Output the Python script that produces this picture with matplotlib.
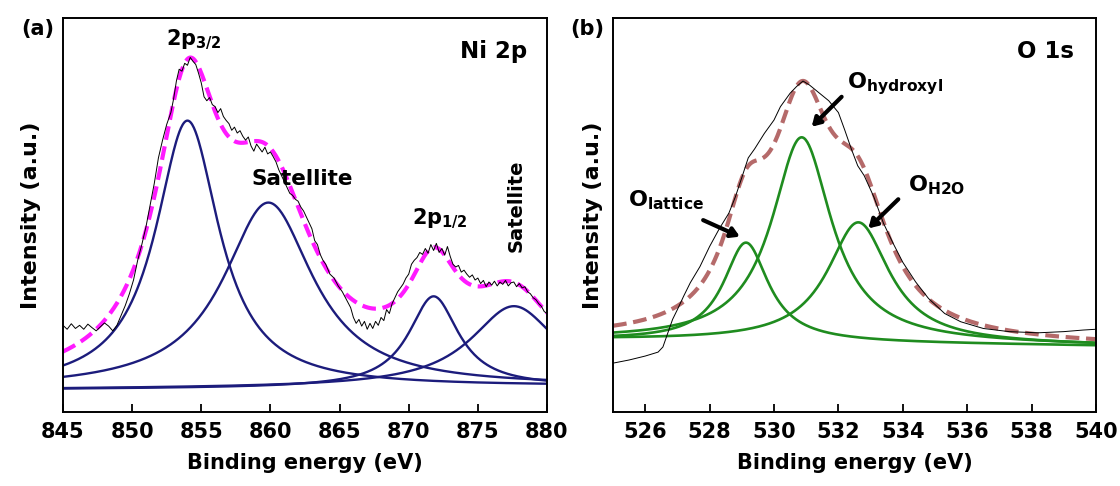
import numpy as np
import matplotlib
matplotlib.use('Agg')
import matplotlib.pyplot as plt

plt.rcParams['font.family'] = ['DejaVu Sans']
plt.rcParams['font.weight'] = 'bold'
plt.rcParams['mathtext.fontset'] = 'custom'
plt.rcParams['mathtext.rm'] = 'DejaVu Sans:bold'
plt.rcParams['mathtext.it'] = 'DejaVu Sans:bold'
plt.rcParams['mathtext.bf'] = 'DejaVu Sans:bold'
plt.rcParams['mathtext.sf'] = 'DejaVu Sans:bold'

ni_energy = [845.0, 845.3, 845.6, 845.9, 846.2, 846.5, 846.8, 847.1, 847.4, 847.7,
             848.0, 848.3, 848.6, 848.9, 849.2, 849.5, 849.8, 850.1, 850.4, 850.7,
             851.0, 851.3, 851.6, 851.9, 852.2, 852.5, 852.8, 853.0, 853.2, 853.4,
             853.6, 853.8, 854.0, 854.2, 854.4, 854.6, 854.8, 855.0, 855.2, 855.4,
             855.6, 855.8, 856.0, 856.2, 856.4, 856.6, 856.8, 857.0, 857.2, 857.4,
             857.6, 857.8, 858.0, 858.2, 858.4, 858.6, 858.8, 859.0, 859.2, 859.4,
             859.6, 859.8, 860.0, 860.2, 860.4, 860.6, 860.8, 861.0, 861.2, 861.4,
             861.6, 861.8, 862.0, 862.2, 862.4, 862.6, 862.8, 863.0, 863.2, 863.4,
             863.6, 863.8, 864.0, 864.3, 864.6, 864.9, 865.2, 865.5, 865.8, 866.0,
             866.2, 866.4, 866.6, 866.8, 867.0, 867.2, 867.4, 867.6, 867.8, 868.0,
             868.2, 868.4, 868.6, 868.8, 869.0, 869.2, 869.4, 869.6, 869.8, 870.0,
             870.2, 870.4, 870.6, 870.8, 871.0, 871.2, 871.4, 871.6, 871.8, 872.0,
             872.2, 872.4, 872.6, 872.8, 873.0, 873.2, 873.4, 873.6, 873.8, 874.0,
             874.2, 874.4, 874.6, 874.8, 875.0, 875.2, 875.4, 875.6, 875.8, 876.0,
             876.2, 876.4, 876.6, 876.8, 877.0, 877.2, 877.4, 877.6, 877.8, 878.0,
             878.2, 878.4, 878.6, 878.8, 879.0, 879.2, 879.4, 879.6, 879.8, 880.0]
ni_counts = [22.0, 21.0, 22.4, 21.2, 22.0, 21.0, 22.3, 21.4, 20.6, 21.6,
             22.6, 21.8, 20.6, 22.0, 24.5, 27.0, 30.0, 33.5, 38.5, 42.5,
             47.0, 52.5, 58.0, 64.5, 69.0, 73.0, 76.0, 79.5, 84.0, 87.0,
             86.5, 88.5, 88.0, 90.0, 89.0, 88.2, 86.0, 83.5, 80.0, 79.0,
             79.8, 78.0, 77.5, 76.0, 77.0, 75.0, 74.0, 73.2, 71.5, 72.3,
             70.8, 71.4, 70.0, 69.0, 69.8, 67.5, 66.2, 68.0, 67.0, 66.0,
             67.2, 65.5, 66.0, 64.8, 63.5, 61.5, 60.0, 58.5, 57.0, 55.5,
             55.0, 54.0, 53.5, 52.0, 51.0, 49.5, 48.0, 46.5, 43.5, 42.5,
             40.0, 38.5, 37.5, 35.0, 34.0, 32.0, 30.5, 28.5, 26.5, 24.0,
             22.5, 23.5, 21.8, 23.0, 21.0, 22.5, 21.2, 23.0, 22.0, 24.0,
             23.2, 26.0, 25.0, 27.5, 29.0, 30.5, 31.5, 32.5, 34.0, 35.0,
             37.5, 38.5, 39.2, 40.5, 40.0, 41.5, 40.3, 42.5, 41.0, 42.8,
             40.5, 41.5, 39.8, 42.0, 39.5, 37.5, 36.8, 37.2, 35.5, 36.0,
             35.0, 34.2, 34.8, 33.5, 34.0, 32.6, 33.4, 31.8, 33.0, 32.2,
             33.2, 32.0, 33.0, 32.4, 33.4, 32.0, 32.8, 33.0, 31.8, 32.6,
             31.5, 31.8, 30.5, 30.0, 29.0, 28.5, 27.5, 26.8, 25.5, 25.0]

# Ni 2p fitted peaks: 2p3/2, satellite, 2p1/2, satellite
ni_centers = [854.0, 859.85, 871.8, 877.6]
ni_heights = [68.0, 47.1, 23.1, 20.5]
ni_hwhm = [2.8, 3.95, 2.2, 3.8]
ni_background = [5.8, 6.4]   # at 845 and 880 eV

# ---- O 1s: measured spectrum ----
o_energy = [525.0, 525.5, 526.0, 526.4, 526.55, 526.7, 526.85, 527.0, 527.2, 527.4,
            527.7, 528.0, 528.3, 528.6, 528.8, 529.0, 529.2, 529.4, 529.7, 530.0,
            530.2, 530.5, 530.7, 530.9, 531.1, 531.4, 531.7, 532.0, 532.2, 532.4,
            532.6, 532.8, 533.1, 533.4, 533.7, 534.0, 534.4, 534.8, 535.3, 535.8,
            536.5, 537.3, 538.2, 539.0, 539.6, 540.0]
o_counts = [12.4, 13.2, 14.2, 15.2, 16.5, 20.0, 23.5, 26.0, 29.5, 32.8,
            36.9, 42.0, 46.5, 50.5, 54.6, 59.5, 64.5, 66.8, 70.7, 74.1,
            77.5, 80.9, 82.6, 84.0, 83.0, 81.0, 79.0, 76.0, 71.5, 66.8,
            62.5, 60.0, 54.6, 47.9, 42.8, 38.0, 33.0, 28.8, 25.0, 22.9,
            21.2, 20.4, 20.1, 20.4, 20.8, 21.0]

# O 1s fitted peaks: lattice, hydroxyl, H2O
o_centers = [529.13, 530.86, 532.62]
o_heights = [25.1, 52.0, 30.6]
o_hwhm = [0.85, 1.13, 1.17]
o_background = [18.3, 16.8]  # at 525 and 540 eV


def lorentz(x, c, h, w):
    return h / (1 + ((x - c) / w) ** 2)


fig = plt.figure(figsize=(11.2, 4.86), dpi=100)
ax1 = fig.add_axes([63 / 1120, 1 - 412 / 486, 484 / 1120, 394 / 486])
ax2 = fig.add_axes([613 / 1120, 1 - 412 / 486, 483 / 1120, 394 / 486])

# ---------------- (a) Ni 2p ----------------
x = np.linspace(845, 880, 600)
bg = np.interp(x, [845, 880], ni_background)
total = bg.copy()
for c, h, w in zip(ni_centers, ni_heights, ni_hwhm):
    comp = lorentz(x, c, h, w)
    total += comp
    ax1.plot(x, bg + comp, color='#1c1c7c', lw=1.7)
ax1.plot(x, total, color='#ff1aff', lw=3, dashes=(3.3, 1.6))
ax1.plot(ni_energy, ni_counts, color='black', lw=0.7)

ax1.set_xlim(845, 880)
ax1.set_ylim(0, 100)
ax1.set_xticks(np.arange(845, 881, 5))
ax1.set_yticks([])
ax1.set_xlabel('Binding energy (eV)', fontsize=15, fontweight='bold', labelpad=8)
ax1.set_ylabel('Intensity (a.u.)', fontsize=16, fontweight='bold', labelpad=16)
ax1.text(0.959, 0.898, 'Ni 2p', transform=ax1.transAxes, ha='right', va='baseline',
         fontsize=16.5, fontweight='bold')
ax1.text(0.213, 0.931, r'2p$_{3/2}$', transform=ax1.transAxes, ha='left', va='baseline',
         fontsize=15, fontweight='bold')
ax1.text(0.39, 0.576, 'Satellite', transform=ax1.transAxes, ha='left', va='baseline',
         fontsize=15.5, fontweight='bold')
ax1.text(0.722, 0.475, r'2p$_{1/2}$', transform=ax1.transAxes, ha='left', va='baseline',
         fontsize=15, fontweight='bold')
ax1.text(0.936, 0.523, 'Satellite', transform=ax1.transAxes, ha='center', va='center',
         rotation=90, fontsize=14, fontweight='bold')
fig.text(37.5 / 1120, 1 - 29 / 486, '(a)', ha='center', va='center', fontsize=15,
         fontweight='bold')

# ---------------- (b) O 1s ----------------
x = np.linspace(525, 540, 600)
bg = np.interp(x, [525, 540], o_background)
total = bg.copy()
for c, h, w in zip(o_centers, o_heights, o_hwhm):
    comp = lorentz(x, c, h, w)
    total += comp
    ax2.plot(x, bg + comp, color='#1f8c1f', lw=1.9)
ax2.plot(x, total, color='#b56a6a', lw=3, dashes=(3.3, 1.6))
ax2.plot(o_energy, o_counts, color='black', lw=0.7)

ax2.set_xlim(525, 540)
ax2.set_ylim(0, 100)
ax2.set_xticks(np.arange(526, 541, 2))
ax2.set_yticks([])
ax2.set_xlabel('Binding energy (eV)', fontsize=15, fontweight='bold', labelpad=8)
ax2.set_ylabel('Intensity (a.u.)', fontsize=16, fontweight='bold', labelpad=7)
ax2.text(0.954, 0.898, 'O 1s', transform=ax2.transAxes, ha='right', va='baseline',
         fontsize=16.5, fontweight='bold')
ax2.text(0.484, 0.822, r'O$_{\mathrm{hydroxyl}}$', transform=ax2.transAxes, ha='left',
         va='baseline', fontsize=16, fontweight='bold')
ax2.text(0.611, 0.559, r'O$_{\mathrm{H2O}}$', transform=ax2.transAxes, ha='left',
         va='baseline', fontsize=16, fontweight='bold')
ax2.text(0.031, 0.521, r'O$_{\mathrm{lattice}}$', transform=ax2.transAxes, ha='left',
         va='baseline', fontsize=16, fontweight='bold')
fig.text(587.5 / 1120, 1 - 29 / 486, '(b)', ha='center', va='center', fontsize=15,
         fontweight='bold')

arrow = dict(arrowstyle='-|>,head_length=0.5,head_width=0.3', lw=3, color='black',
             shrinkA=0, shrinkB=0)
ax2.annotate('', xy=(531.17, 72.4), xytext=(532.10, 80.0), arrowprops=arrow)
ax2.annotate('', xy=(528.94, 44.5), xytext=(527.80, 48.7), arrowprops=arrow)
ax2.annotate('', xy=(532.93, 46.6), xytext=(533.86, 54.0), arrowprops=arrow)

for ax in (ax1, ax2):
    for s in ax.spines.values():
        s.set_linewidth(1.4)
    ax.tick_params(axis='x', direction='in', length=6, width=1.3, labelsize=15, pad=7,
                   top=False)
    for lab in ax.get_xticklabels():
        lab.set_fontweight('bold')

fig.savefig('out.png', dpi=100)
